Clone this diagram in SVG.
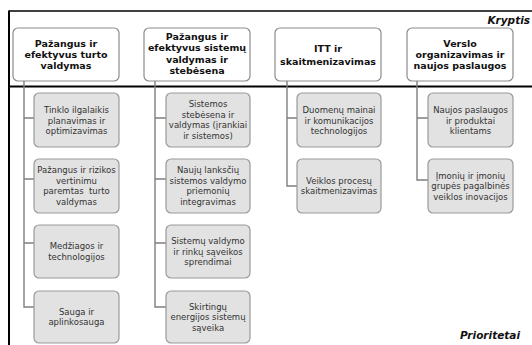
<svg xmlns="http://www.w3.org/2000/svg" width="532" height="345" viewBox="0 0 532 345">
<style>
.frame{stroke:#000;fill:none}
.top rect{fill:#fff;stroke:#8c8c8c;stroke-width:1.2}
.sub rect{fill:#e2e2e2;stroke:#9a9a9a;stroke-width:1.2}
.top text{font-family:"DejaVu Sans",Verdana,sans-serif;font-size:9.5px;font-weight:bold;fill:#111;text-anchor:middle}
.sub text{font-family:"DejaVu Sans",Verdana,sans-serif;font-size:8.5px;fill:#333;text-anchor:middle}
.lbl{font-family:"DejaVu Sans",Verdana,sans-serif;font-size:10.5px;font-weight:bold;font-style:italic;fill:#111}
#connectors path{fill:none;stroke:#7f7f7f;stroke-width:1.4}
</style>
<rect width="532" height="345" fill="#fff"/>
<g id="frame">
<line class="frame" x1="9" y1="11" x2="532" y2="11" stroke-width="1.5"/>
<line class="frame" x1="9" y1="10.5" x2="9" y2="345" stroke-width="2"/>
<line class="frame" x1="9" y1="86.5" x2="532" y2="86.5" stroke-width="2"/>
<text class="lbl" x="530" y="23.5" text-anchor="end">Kryptis</text>
<text class="lbl" x="460" y="339">Prioritetai</text>
</g>
<g id="connectors">
<path d="M24 81V307H34M24 118H34M24 179H34M24 243H34"/>
<path d="M155 81V307H166M155 118H166M155 179H166M155 243H166"/>
<path d="M287 81V186H297M287 118H297"/>
<path d="M417 81V180H428M417 118H428"/>
</g>
<g id="k1" class="top"><rect x="13" y="28" width="106" height="53" rx="5"/>
<text x="66" y="46.5">Pažangus ir</text><text x="66" y="57.5">efektyvus turto</text><text x="66" y="68.5">valdymas</text></g>
<g id="k2" class="top"><rect x="144" y="28" width="106" height="53" rx="5"/>
<text x="197" y="40">Pažangus ir</text><text x="197" y="51.3">efektyvus sistemų</text><text x="197" y="62.6">valdymas ir</text><text x="197" y="73.9">stebėsena</text></g>
<g id="k3" class="top"><rect x="275" y="28" width="106" height="53" rx="5"/>
<text x="328" y="52.3">ITT ir</text><text x="328" y="65">skaitmenizavimas</text></g>
<g id="k4" class="top"><rect x="407" y="28" width="106" height="53" rx="5"/>
<text x="460" y="46.5">Verslo</text><text x="460" y="57.5">organizavimas ir</text><text x="460" y="68.5">naujos paslaugos</text></g>

<g id="p11" class="sub"><rect x="34" y="93" width="85" height="54" rx="5"/>
<text x="76.5" y="113">Tinklo ilgalaikis</text><text x="76.5" y="123.5">planavimas ir</text><text x="76.5" y="134">optimizavimas</text></g>
<g id="p12" class="sub"><rect x="34" y="159" width="85" height="54" rx="5"/>
<text x="76.5" y="173.3">Pažangus ir rizikos</text><text x="76.5" y="183.8">vertinimu</text><text x="76.5" y="194.3" xml:space="preserve">paremtas  turto</text><text x="76.5" y="204.8">valdymas</text></g>
<g id="p13" class="sub"><rect x="34" y="225" width="85" height="53" rx="5"/>
<text x="76.5" y="249.3">Medžiagos ir</text><text x="76.5" y="259.8">technologijos</text></g>
<g id="p14" class="sub"><rect x="34" y="291" width="85" height="52" rx="5"/>
<text x="76.5" y="314.8">Sauga ir</text><text x="76.5" y="325.3">aplinkosauga</text></g>

<g id="p21" class="sub"><rect x="166" y="93" width="84" height="54" rx="5"/>
<text x="208" y="107.3">Sistemos</text><text x="208" y="117.8">stebėsena ir</text><text x="208" y="128.3">valdymas (įrankiai</text><text x="208" y="138.8">ir sistemos)</text></g>
<g id="p22" class="sub"><rect x="166" y="159" width="84" height="54" rx="5"/>
<text x="208" y="173.3">Naujų lanksčių</text><text x="208" y="183.8">sistemos valdymo</text><text x="208" y="194.3">priemonių</text><text x="208" y="204.8">integravimas</text></g>
<g id="p23" class="sub"><rect x="166" y="225" width="84" height="53" rx="5"/>
<text x="208" y="244">Sistemų valdymo</text><text x="208" y="254.5">ir rinkų sąveikos</text><text x="208" y="265">sprendimai</text></g>
<g id="p24" class="sub"><rect x="166" y="291" width="84" height="52" rx="5"/>
<text x="208" y="309.5">Skirtingų</text><text x="208" y="320">energijos sistemų</text><text x="208" y="330.5">sąveika</text></g>

<g id="p31" class="sub"><rect x="297" y="93" width="84" height="54" rx="5"/>
<text x="339" y="113">Duomenų mainai</text><text x="339" y="123.5">ir komunikacijos</text><text x="339" y="134">technologijos</text></g>
<g id="p32" class="sub"><rect x="297" y="159" width="84" height="54" rx="5"/>
<text x="339" y="183.8">Veiklos procesų</text><text x="339" y="194.3">skaitmenizavimas</text></g>

<g id="p41" class="sub"><rect x="428" y="93" width="85" height="54" rx="5"/>
<text x="470.5" y="113">Naujos paslaugos</text><text x="470.5" y="123.5">ir produktai</text><text x="470.5" y="134">klientams</text></g>
<g id="p42" class="sub"><rect x="428" y="159" width="85" height="54" rx="5"/>
<text x="470.5" y="178.5">Įmonių ir įmonių</text><text x="470.5" y="189">grupės pagalbinės</text><text x="470.5" y="199.5">veiklos inovacijos</text></g>
</svg>
